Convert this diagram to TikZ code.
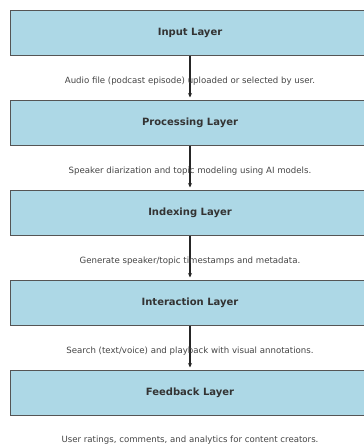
\documentclass[tikz,border=0pt]{standalone}
\usepackage{fontspec}
\setmainfont{DejaVu Sans}
\usetikzlibrary{arrows.meta}
\definecolor{boxfill}{HTML}{ADD8E6}
\definecolor{boxdraw}{HTML}{555555}
\definecolor{titletxt}{HTML}{333333}
\definecolor{desctxt}{HTML}{444444}
\tikzset{
  layer/.style={draw=boxdraw, line width=1pt, fill=boxfill, minimum width=360pt, minimum height=45pt, inner sep=0pt, font=\fontsize{10}{12}\selectfont\bfseries, text=titletxt},
  desc/.style={font=\fontsize{8.6}{10}\selectfont, text=desctxt, inner sep=0pt},
  conn/.style={draw=black!85, line width=1.3pt, -{Stealth[length=4.5pt,width=4pt]}, shorten >=2pt}
}
\begin{document}
\begin{tikzpicture}[x=1pt,y=-1pt]
\useasboundingbox (0,0) rectangle (364,445);
\node[layer] (in) at (190,32.5) {Input Layer};
\node[layer] (proc) at (190,122.5) {Processing Layer};
\node[layer] (idx) at (190,212.5) {Indexing Layer};
\node[layer] (inter) at (190,302.5) {Interaction Layer};
\node[layer] (fb) at (190,392.5) {Feedback Layer};
\draw[conn] (in.south) -- (proc.north);
\draw[conn] (proc.south) -- (idx.north);
\draw[conn] (idx.south) -- (inter.north);
\draw[conn] (inter.south) -- (fb.north);
\node[desc] (d1) at (190,81) {Audio file (podcast episode) uploaded or selected by user.};
\node[desc] (d2) at (190,171) {Speaker diarization and topic modeling using AI models.};
\node[desc] (d3) at (190,261) {Generate speaker/topic timestamps and metadata.};
\node[desc] (d4) at (190,351) {Search (text/voice) and playback with visual annotations.};
\node[desc] (d5) at (190,440) {User ratings, comments, and analytics for content creators.};
\end{tikzpicture}
\end{document}
